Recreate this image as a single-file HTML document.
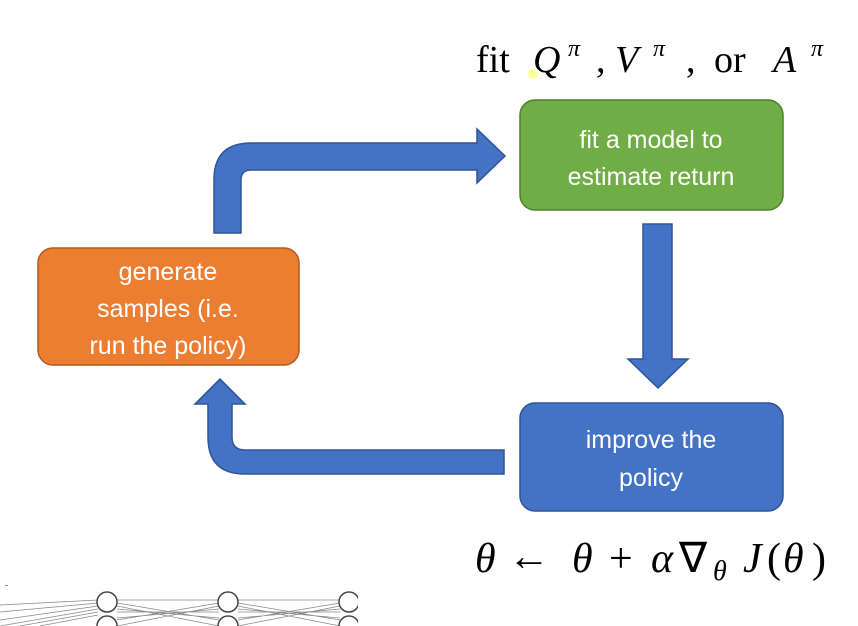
<!DOCTYPE html>
<html><head><meta charset="utf-8"><style>
html,body{margin:0;padding:0;background:#fff;}
svg{display:block}
</style></head><body>
<svg width="858" height="626" viewBox="0 0 858 626" xmlns="http://www.w3.org/2000/svg">
<g stroke="#2f5597" stroke-width="1.5" fill="#4472c4">
<path d="M214,233 L214,180 Q214,143 251,143 L477,143 L477,129 L505,156 L477,183 L477,170 L251,170 Q241,170 241,180 L241,233 Z"/>
<path d="M643,224 L672,224 L672,359 L688,359 L658,388 L628,359 L643,359 Z"/>
<path d="M504,450 L245,450 Q232,450 232,437 L232,404 L245,404 L220,379 L195,404 L208,404 L208,437 Q208,474 245,474 L504,474 Z"/>
</g>
<rect x="38" y="248" width="261" height="117" rx="15" fill="#ed7d31" stroke="#ae5a21" stroke-width="1.5"/>
<rect x="520" y="100" width="263" height="110" rx="15" fill="#70ad47" stroke="#507e32" stroke-width="1.5"/>
<rect x="520" y="403" width="263" height="108" rx="15" fill="#4472c4" stroke="#2f5597" stroke-width="1.5"/>
<g font-family="Liberation Sans, sans-serif" font-size="25" fill="#fff" text-anchor="middle">
<text x="168" y="280">generate</text>
<text x="168" y="317">samples (i.e.</text>
<text x="168" y="354">run the policy)</text>
<text x="651" y="148">fit a model to</text>
<text x="651" y="185">estimate return</text>
<text x="651" y="448">improve the</text>
<text x="651" y="486">policy</text>
</g>
<g font-family="Liberation Serif, serif" font-size="38" fill="#000">
<text x="476" y="72">fit</text>
<text x="533" y="72" font-style="italic">Q</text>
<text x="568" y="56" font-style="italic" font-size="24">π</text>
<text x="596" y="72">,</text>
<text x="615" y="72" font-style="italic">V</text>
<text x="653" y="56" font-style="italic" font-size="24">π</text>
<text x="686" y="72">,</text>
<text x="714" y="72">or</text>
<text x="773" y="72" font-style="italic">A</text>
<text x="811" y="56" font-style="italic" font-size="24">π</text>
</g>
<g font-family="Liberation Serif, serif" font-size="42" fill="#000">
<text x="475" y="572" font-style="italic">θ</text>
<text x="508" y="570">←</text>
<text x="572" y="572" font-style="italic">θ</text>
<text x="609" y="572">+</text>
<text x="651" y="572" font-style="italic">α</text>
<text x="679" y="572">∇</text>
<text x="713" y="580" font-style="italic" font-size="28">θ</text>
<text x="743" y="572" font-style="italic">J</text>
<text x="767" y="572">(</text>
<text x="783" y="572" font-style="italic">θ</text>
<text x="812" y="572">)</text>
</g>
<circle cx="533" cy="74" r="5" fill="#ffff80" opacity="0.8"/>
<g stroke="#888" stroke-width="0.7" fill="none">
<path d="M0,605 L98,600 M0,612 L98,603 M0,620 L98,606 M0,626 L98,609 M20,626 L98,612 M40,626 L98,615"/>
<path d="M117,600 L219,600 M117,603 L219,620 M117,606 L219,626 M117,620 L219,603 M117,626 L219,606 M117,612 L219,612 M117,609 L219,618 M117,618 L219,609"/>
<path d="M238,600 L340,600 M238,603 L340,620 M238,606 L340,626 M238,620 L340,603 M238,626 L340,606 M238,612 L340,612 M238,609 L340,618 M238,618 L340,609"/>
</g>
<g stroke="#444" stroke-width="1.5" fill="#fff">
<circle cx="107" cy="602" r="10"/><circle cx="107" cy="626" r="10"/>
<circle cx="228" cy="602" r="10"/><circle cx="228" cy="626" r="10"/>
<circle cx="349" cy="602" r="10"/><circle cx="349" cy="626" r="10"/>
</g>
<rect x="358" y="580" width="20" height="46" fill="#fff"/>
<rect x="5" y="585" width="3" height="1" fill="#888"/>
</svg>
</body></html>
